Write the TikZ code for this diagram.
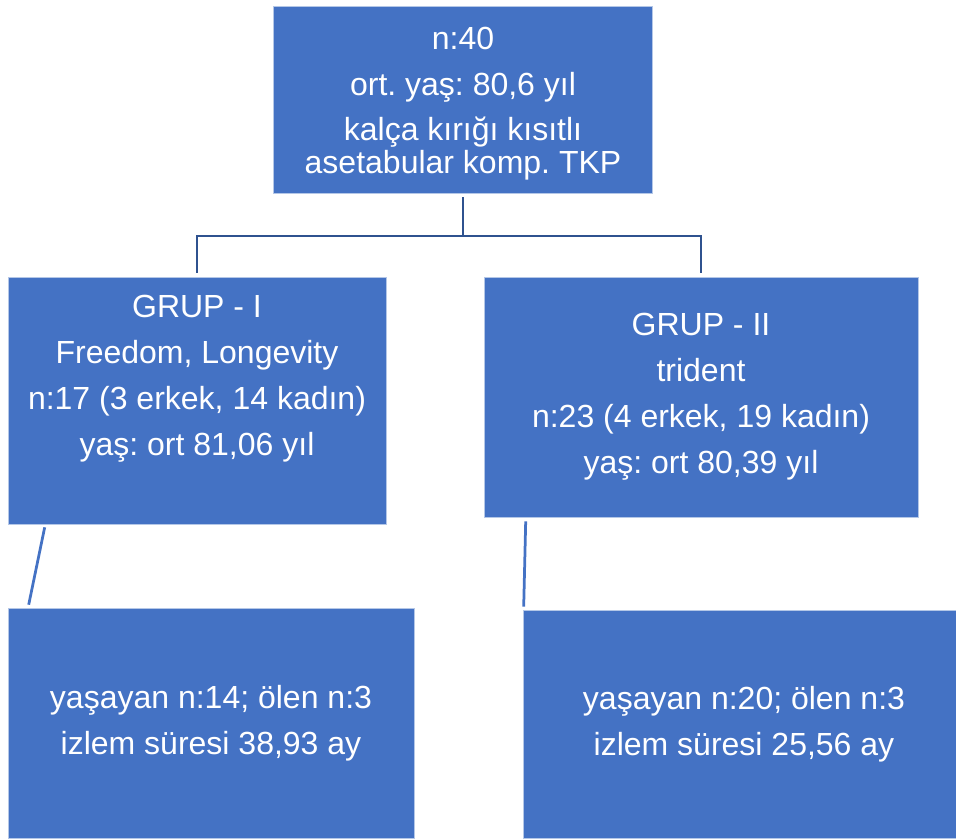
\documentclass[tikz,border=0pt]{standalone}
\usepackage{fontspec}
\setmainfont{Liberation Sans}
\frenchspacing
\definecolor{boxblue}{HTML}{4472C4}
\definecolor{boxedge}{HTML}{B4C7E7}
\definecolor{linkblue}{HTML}{2F528F}
\newcommand{\dropdepth}[1]{\rule[-#1]{0pt}{#1}}
\begin{document}
\begin{tikzpicture}[x=1pt,y=-1pt,
  infobox/.style={rectangle,fill=boxblue,draw=boxedge,line width=0.6pt,
    text=white,align=center,inner sep=0pt,
    font=\fontsize{32}{46}\selectfont},
  elbow/.style={linkblue,line width=2.75pt},
  slant/.style={boxblue,line width=2.75pt}]
  \useasboundingbox (0,0) rectangle (956,840);
  % whole series
  \node[infobox,minimum width=379pt,minimum height=187pt] (top) at (463,99.5)
    {\rule{0pt}{31pt}n:40\\[0pt]ort. yaş: 80,6 yıl\\[-1pt]kalça kırığı kısıtlı\\[-13pt]asetabular komp. TKP};
  % the two groups
  \node[infobox,minimum width=378pt,minimum height=247pt] (grpI) at (197,400.5)
    {GRUP - I\\Freedom, Longevity\\n:17 (3 erkek, 14 kadın)\\yaş: ort 81,06 yıl\dropdepth{50pt}};
  \node[infobox,minimum width=434pt,minimum height=240pt] (grpII) at (701,397)
    {GRUP - II\\trident\\n:23 (4 erkek, 19 kadın)\\yaş: ort 80,39 yıl};
  % outcome of each group
  \node[infobox,minimum width=406pt,minimum height=230pt] (outI) at (211,723)
    {yaşayan n:14; ölen n:3\\izlem süresi 38,93 ay};
  \node[infobox,minimum width=442pt,minimum height=228pt] (outII) at (744,724)
    {yaşayan n:20; ölen n:3\\izlem süresi 25,56 ay};
  % fork from the series to the groups
  \coordinate (fork) at (463,236);
  \draw[elbow,shorten <=4pt,shorten >=4pt] (top) -- (fork) -| (grpI);
  \draw[elbow,shorten >=4pt] (fork) -| (grpII);
  % groups down to their outcomes
  \draw[slant] ([xshift=37pt,yshift=-3pt]grpI.south west) -- ([xshift=21pt,yshift=3pt]outI.north west);
  \draw[slant] ([xshift=42pt,yshift=-4pt]grpII.south west) -- ([xshift=1pt,yshift=3pt]outII.north west);
\end{tikzpicture}
\end{document}
